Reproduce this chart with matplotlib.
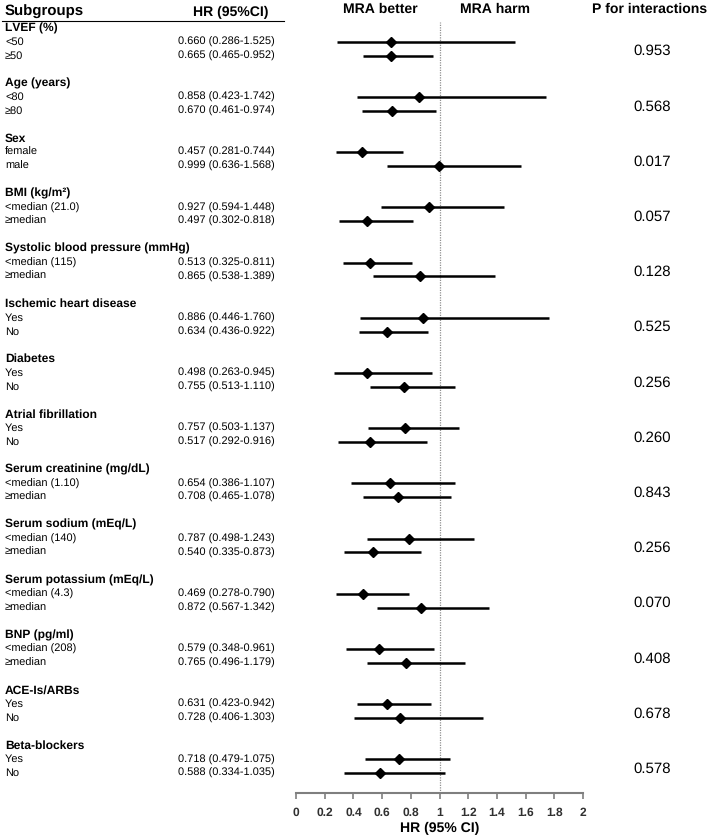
import matplotlib
matplotlib.use("Agg")
import matplotlib.pyplot as plt
from matplotlib.transforms import blended_transform_factory

plt.rcParams['font.family'] = ['Liberation Sans', 'DejaVu Sans']
plt.rcParams['text.hinting'] = 'no_hinting'
plt.rcParams['text.hinting_factor'] = 1

groups = ["LVEF (%)", "Age (years)", "Sex", "BMI (kg/m\u00b2)", "Systolic blood pressure (mmHg)",
          "Ischemic heart disease", "Diabetes", "Atrial fibrillation", "Serum creatinine (mg/dL)",
          "Serum sodium (mEq/L)", "Serum potassium (mEq/L)", "BNP (pg/ml)", "ACE-Is/ARBs", "Beta-blockers"]
sublabels = [["<50", "\u226550"], ["<80", "\u226580"], ["female", "male"],
             ["<median (21.0)", "\u2265median"], ["<median (115)", "\u2265median"],
             ["Yes", "No"], ["Yes", "No"], ["Yes", "No"],
             ["<median (1.10)", "\u2265median"], ["<median (140)", "\u2265median"],
             ["<median (4.3)", "\u2265median"], ["<median (208)", "\u2265median"],
             ["Yes", "No"], ["Yes", "No"]]
hr = [[0.660, 0.665], [0.858, 0.670], [0.457, 0.999], [0.927, 0.497], [0.513, 0.865],
      [0.886, 0.634], [0.498, 0.755], [0.757, 0.517], [0.654, 0.708], [0.787, 0.540],
      [0.469, 0.872], [0.579, 0.765], [0.631, 0.728], [0.718, 0.588]]
lo = [[0.286, 0.465], [0.423, 0.461], [0.281, 0.636], [0.594, 0.302], [0.325, 0.538],
      [0.446, 0.436], [0.263, 0.513], [0.503, 0.292], [0.386, 0.465], [0.498, 0.335],
      [0.278, 0.567], [0.348, 0.496], [0.423, 0.406], [0.479, 0.334]]
hi = [[1.525, 0.952], [1.742, 0.974], [0.744, 1.568], [1.448, 0.818], [0.811, 1.389],
      [1.760, 0.922], [0.945, 1.110], [1.137, 0.916], [1.107, 1.078], [1.243, 0.873],
      [0.790, 1.342], [0.961, 1.179], [0.942, 1.303], [1.075, 1.035]]
pvals = ["0.953", "0.568", "0.017", "0.057", "0.128", "0.525", "0.256", "0.260",
         "0.843", "0.256", "0.070", "0.408", "0.678", "0.578"]
xticks = [0, 0.2, 0.4, 0.6, 0.8, 1, 1.2, 1.4, 1.6, 1.8, 2]
xticklabels = ["0", "0.2", "0.4", "0.6", "0.8", "1", "1.2", "1.4", "1.6", "1.8", "2"]

W, H = 709, 838
fig = plt.figure(figsize=(W / 100, H / 100), dpi=100)

# axes placement in pixels
x0, x1 = 296, 583
ytop, ybot = 22, 793
ax = fig.add_axes([x0 / W, 1 - ybot / H, (x1 - x0) / W, (ybot - ytop) / H])
row_top_px = 28.0
step = 13.8
ax.set_xlim(0, 2)
ax.set_ylim((ybot - row_top_px) / step, (ytop - row_top_px) / step)

for s in ["top", "right", "left"]:
    ax.spines[s].set_visible(False)
ax.spines["bottom"].set_color("#7f7f7f")
ax.spines["bottom"].set_linewidth(1.5)
ax.set_yticks([])
ax.set_xticks(xticks)
ax.set_xticklabels(xticklabels, fontsize=8.5, color="#303030", fontweight="bold")
ax.tick_params(axis="x", direction="out", length=4, width=1.2, color="#7f7f7f", pad=6)
ax.set_xlabel("HR (95% CI)", fontsize=10, fontweight="bold", labelpad=3)

ax.axvline(1, color="#909090", lw=0.9, ls=(0, (1, 1)))

tr = blended_transform_factory(fig.transFigure, ax.transData)
lx = 5 / W
hx = 178 / W
px = 652 / W

for g, name in enumerate(groups):
    yh = g * 4
    ax.text(lx, yh, name, transform=tr, fontsize=8.6, fontweight="bold", va="center", ha="left")
    for k in range(2):
        y = yh + 1 + k
        ax.text(lx, y, sublabels[g][k], transform=tr, fontsize=8.2, va="center", ha="left")
        ax.text(hx, y, f"{hr[g][k]:.3f} ({lo[g][k]:.3f}-{hi[g][k]:.3f})", transform=tr,
                fontsize=8.2, va="center", ha="left")
        ax.plot([lo[g][k], hi[g][k]], [y, y], color="black", lw=1.8, solid_capstyle="butt",
                clip_on=False)
        ax.plot(hr[g][k], y, marker="D", color="black", markersize=4.8, clip_on=False)
    ax.text(px, yh + 1.7, pvals[g], transform=tr, fontsize=10.7, va="center", ha="center")

# headers
fig.text(5 / W, 1 - 12 / H, "Subgroups", fontsize=10.8, fontweight="bold", va="center", ha="left")
fig.text(231 / W, 1 - 12 / H, "HR (95%CI)", fontsize=10.4, fontweight="bold", va="center", ha="center")
fig.text(380 / W, 1 - 9 / H, "MRA better", fontsize=10.2, fontweight="bold", va="center", ha="center")
fig.text(495 / W, 1 - 9 / H, "MRA harm", fontsize=10.2, fontweight="bold", va="center", ha="center")
fig.text(707 / W, 1 - 9 / H, "P for interactions", fontsize=10, fontweight="bold", va="center", ha="right")
fig.add_artist(plt.Line2D([2 / W, 284 / W], [1 - 21 / H, 1 - 21 / H], color="black", lw=0.8))

fig.savefig("out.png", dpi=100)
